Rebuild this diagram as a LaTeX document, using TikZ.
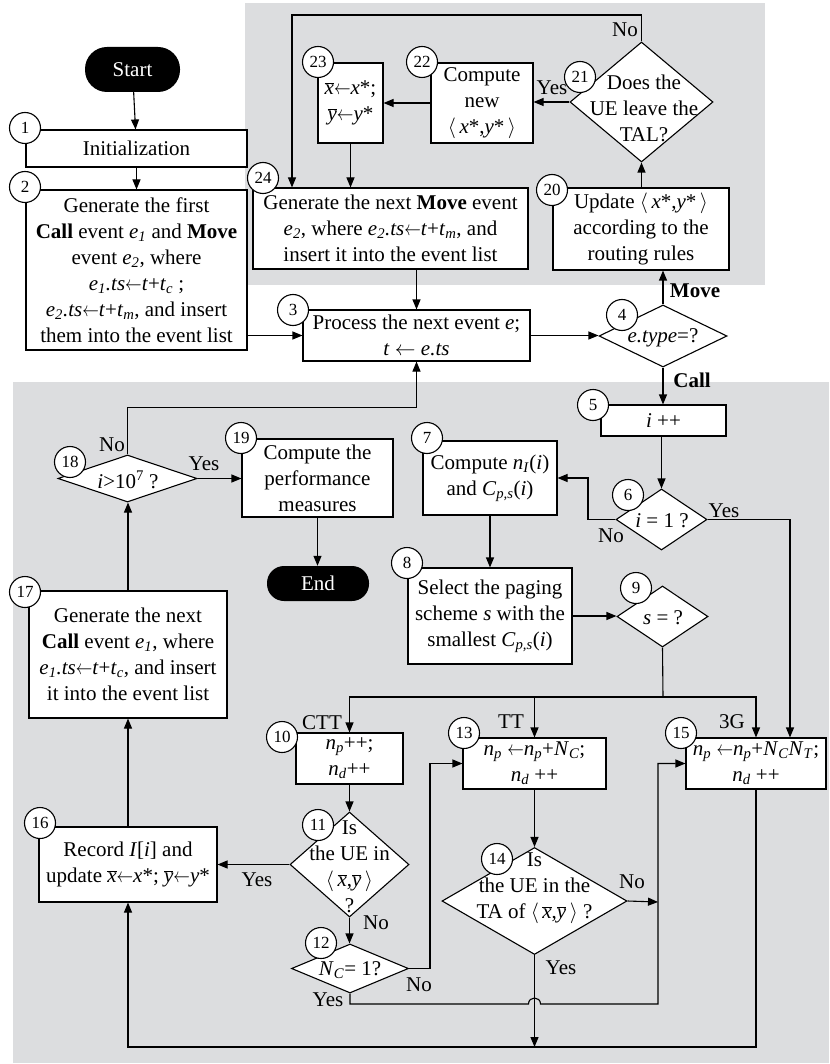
\documentclass[tikz,border=0pt]{standalone}
\usepackage{fontspec}
\usepackage{graphicx}
\setmainfont{Liberation Serif}
\usetikzlibrary{shapes.geometric,arrows.meta,calc}
\definecolor{bgray}{RGB}{220,221,223}
\newcommand{\fs}{\fontsize{21}{26}\selectfont}
\newcommand{\vi}[1]{\textit{#1}}
\newcommand{\es}[2]{\textit{#1}\textsubscript{\textit{#2}}}
\newcommand{\lar}{\scalebox{0.8}[1]{$\leftarrow$}}
\newcommand{\xb}{\ensuremath{\overline{\mbox{\textit{x}}}}}
\newcommand{\yb}{\ensuremath{\overline{\mbox{\textit{y}}}}}
\newcommand{\ang}[1]{\ensuremath{\langle}\,#1\,\ensuremath{\rangle}}
\tikzset{
  conn/.style={line width=1.1pt},
  arr/.style={line width=1.1pt,-{Triangle[length=10pt,width=8pt]}},
  box/.style={draw, fill=white, line width=1.1pt, inner sep=0pt, align=center, font=\fs},
  dia/.style={diamond, draw, fill=white, line width=1.1pt, inner sep=0pt},
  txt/.style={inner sep=0pt, align=center, font=\fs},
  num/.style={circle, draw, fill=white, line width=1.1pt, minimum size=31pt, inner sep=0pt, font=\fontsize{17}{17}\selectfont},
  pill/.style={fill=black, text=white, inner sep=0pt, font=\fs},
  lab/.style={inner sep=0pt, font=\fs},
  blab/.style={inner sep=0pt, font=\fs\bfseries}
}
\begin{document}
\begin{tikzpicture}[x=1pt,y=-1pt]
\useasboundingbox (0,0) rectangle (829,1064);
\fill[bgray] (245,3) rectangle (765,285);
\fill[bgray] (13,382) rectangle (829,1063);

% ---------- nodes ----------
\node[pill, minimum width=95pt, minimum height=45pt, rounded corners=22pt] (start) at (132.5,69.5) {Start};
\node[box, minimum width=221pt, minimum height=37pt] (b1) at (136.5,148.5) {Initialization};
\node[box, minimum width=221pt, minimum height=160pt] (b2) at (136.5,270) {Generate the first\\ \textbf{Call} event \es{e}{1} and \textbf{Move}\\ event \es{e}{2}, where\\ \es{e}{1}\vi{.ts}\lar\vi{t}+\es{t}{c} ;\\ \es{e}{2}\vi{.ts}\lar\vi{t}+\es{t}{m}, and insert\\ them into the event list};
\node[box, minimum width=227pt, minimum height=51pt] (b3) at (416.5,335.5) {Process the next event \vi{e};\\ \vi{t} $\leftarrow$ \vi{e.ts}};
\node[dia, minimum width=128pt, minimum height=62pt] (d4) at (663,336) {};
\node[txt] (t4) at (663,338) {\vi{e.type}=?};
\node[box, minimum width=125pt, minimum height=31pt] (b5) at (663.5,420.5) {\vi{i} ++};
\node[dia, minimum width=91pt, minimum height=61pt] (d6) at (661.5,519.5) {};
\node[txt] (t6) at (662,521) {\vi{i} = 1 ?};
\node[box, minimum width=134pt, minimum height=74pt] (b7) at (490,478) {Compute \es{n}{I}(\vi{i})\\ and \es{C}{p,s}(\vi{i})};
\node[box, minimum width=164pt, minimum height=96pt] (b8) at (490,616) {Select the paging\\ scheme \vi{s} with the\\ smallest \es{C}{p,s}(\vi{i})};
\node[dia, minimum width=91pt, minimum height=61pt] (d9) at (662.5,616.5) {};
\node[txt] (t9) at (663,618) {\vi{s} = ?};
\node[box, minimum width=107pt, minimum height=51pt] (b10) at (349.5,758.5) {\es{n}{p}++;\\ \es{n}{d}++};
\node[dia, minimum width=119pt, minimum height=105pt] (d11) at (349.5,864.5) {};
\node[txt] (t11) at (349.5,866.5) {Is\\ the UE in\\ \ang{\xb,\yb}\\ ?};
\node[dia, minimum width=117pt, minimum height=49pt] (d12) at (350,968.5) {};
\node[txt] (t12) at (350,970) {\es{N}{C}= 1?};
\node[box, minimum width=143pt, minimum height=51pt] (b13) at (534.5,763.5) {\es{n}{p} \lar\es{n}{p}+\es{N}{C};\\ \es{n}{d} ++};
\node[dia, minimum width=185pt, minimum height=107pt] (d14) at (534.5,901) {};
\node[txt] (t14) at (534.5,888) {Is\\ the UE in the\\ TA of \ang{\xb,\yb} ?};
\node[box, minimum width=140pt, minimum height=51pt] (b15) at (756,763.5) {\es{n}{p} \lar\es{n}{p}+\es{N}{C}\es{N}{T};\\ \es{n}{d} ++};
\node[box, minimum width=178pt, minimum height=75pt] (b16) at (128,864.5) {Record \vi{I}[\vi{i}] and\\ update \xb\lar\vi{x}*; \yb\lar\vi{y}*};
\node[box, minimum width=198pt, minimum height=127pt] (b17) at (128,654.5) {Generate the next\\ \textbf{Call} event \es{e}{1}, where\\ \es{e}{1}\vi{.ts}\lar\vi{t}+\es{t}{c}, and insert\\ it into the event list};
\node[dia, minimum width=139pt, minimum height=47pt] (d18) at (127.5,478.5) {};
\node[txt] (t18) at (128,480) {\vi{i}>10\textsuperscript{7} ?};
\node[box, minimum width=151pt, minimum height=78pt] (b19) at (317.5,478) {Compute the\\ performance\\ measures};
\node[pill, minimum width=102pt, minimum height=35pt, rounded corners=17pt] (end) at (318,583.5) {End};
\node[box, minimum width=176pt, minimum height=82pt] (b20) at (641,229) {Update \ang{\vi{x}*,\vi{y}*}\\ according to the\\ routing rules};
\node[dia, minimum width=143pt, minimum height=120pt] (d21) at (641.5,102) {};
\node[txt] (t21) at (644,108) {Does the\\ UE leave the\\ TAL?};
\node[box, minimum width=102pt, minimum height=80pt] (b22) at (482,103) {Compute\\ new\\ \ang{\vi{x}*,\vi{y}*}};
\node[box, minimum width=65pt, minimum height=80pt] (b23) at (350.5,103) {\xb\lar\vi{x}*;\\ \yb\lar\vi{y}*};
\node[box, minimum width=275pt, minimum height=81pt] (b24) at (390.5,228.5) {Generate the next \textbf{Move} event\\ \es{e}{2}, where \es{e}{2}\vi{.ts}\lar\vi{t}+\es{t}{m}, and\\ insert it into the event list};

% ---------- connectors ----------
\coordinate (k21) at (292,15);
\coordinate (k6) at (588,478);
\coordinate (k6y) at (790,519);
\coordinate (h9) at (663,697);
\coordinate (k12) at (430,763.5);
\coordinate (k14) at (658,902);
\coordinate (k15) at (658,763.5);
\coordinate (y12) at (350,1004);
\coordinate (j1) at (534.5,1047);

\draw[arr] (start) -- (b1);
\draw[arr] (b1) -- (b2);
\draw[arr] (b2.east |- b3.west) -- (b3.west);
\draw[arr] (b3.north |- b24.south) -- (b3.north);
\draw[arr] (b3.east) -- (b3.east -| d4.west);
\draw[arr] (d4.north) -- (d4.north |- b20.south);
\draw[arr] (b20.north -| d21.south) -- (d21.south);
\draw[arr] (d21.west) -- (d21.west -| b22.east);
\draw[arr] (b22.west) -- (b22.west -| b23.east);
\draw[arr] (b23.south) -- (b23.south |- b24.north);
\draw[arr] (d21.north) |- (k21) -- (k21 |- b24.north);
\draw[arr] (d4.south) -- (d4.south |- b5.north);
\draw[arr] (b5.south -| d6.north) -- (d6.north);
\draw[arr] (d6.west) -| (k6) -- (b7.east);
\draw[arr] (d6.east) -| (k6y |- b15.north);
\draw[arr] (b7) -- (b8);
\draw[arr] (b8.east) -- (b8.east -| d9.west);
\draw[conn] (d9.south) -- (h9);
\draw[arr] (h9) -| (b10.north);
\draw[arr] (h9) -| (b15.north);
\draw[arr] (b13.north |- h9) -- (b13.north);
\draw[arr] (b10.south) -- (b10.south |- d11.north);
\draw[arr] (d11.west) -- (d11.west -| b16.east);
\draw[arr] (d11.south) -- (d11.south |- d12.north);
\draw[arr] (d12.east) -| (k12) -- (b13.west);
\draw[arr] (b13.south) -- (b13.south |- d14.north);
\draw[arr] (d14.east) -- (k14);
\draw[arr] (d12.south) -- (y12) -- ($(j1|-y12)+(-6,0)$) .. controls ($(j1|-y12)+(-6,-8)$) and ($(j1|-y12)+(6,-8)$) .. ($(j1|-y12)+(6,0)$) -| (k15) -- (b15.west);
\draw[arr] (d14.south) -- (j1);
\draw[arr] (b15.south) |- (j1) -| (b16.south);
\draw[arr] (b16.north) -- (b17.south);
\draw[arr] (b17.north) -- (b17.north |- d18.south);
\draw[arr] (d18.east) -- (d18.east -| b19.west);
\draw[arr] (d18.north) -- ++(0,-47) -| (b3.south);
\draw[arr] (b19.south) -- (b19.south |- end.north);

% ---------- number circles ----------
\node[num] (c1) at (25,128) {1};
\node[num] (c2) at (25,187) {2};
\node[num] (c3) at (293,310) {3};
\node[num] (c4) at (622,315) {4};
\node[num] (c5) at (593,405) {5};
\node[num] (c6) at (628,495) {6};
\node[num] (c7) at (427,438) {7};
\node[num] (c8) at (407,563) {8};
\node[num] (c9) at (636,588) {9};
\node[num] (c10) at (282,737) {10};
\node[num] (c11) at (318,825) {11};
\node[num] (c12) at (321,943) {12};
\node[num] (c13) at (464,733) {13};
\node[num] (c14) at (497,859) {14};
\node[num] (c15) at (681,733) {15};
\node[num] (c16) at (40,823) {16};
\node[num] (c17) at (25,592) {17};
\node[num] (c18) at (70,462) {18};
\node[num] (c19) at (241,438) {19};
\node[num] (c20) at (552,190) {20};
\node[num] (c21) at (580,77) {21};
\node[num] (c22) at (422,62) {22};
\node[num] (c23) at (318,62) {23};
\node[num] (c24) at (263,178) {24};

% ---------- branch labels ----------
\node[lab] (lNo21) at (625,30) {No};
\node[lab] (lYes21) at (552,88) {Yes};
\node[blab] (lMove) at (695,291) {Move};
\node[blab] (lCall) at (692,380) {Call};
\node[lab] (lNo18) at (112,445) {No};
\node[lab] (lYes18) at (204,464) {Yes};
\node[lab] (lNo6) at (611,536) {No};
\node[lab] (lYes6) at (724,511) {Yes};
\node[lab] (lCTT) at (322,723) {CTT};
\node[lab] (lTT) at (511,722) {TT};
\node[lab] (l3G) at (732,722) {3G};
\node[lab] (lYes11) at (257,880) {Yes};
\node[lab] (lNo11) at (376,923) {No};
\node[lab] (lNo12) at (419,985) {No};
\node[lab] (lYes12) at (328,1000) {Yes};
\node[lab] (lNo14) at (632,882) {No};
\node[lab] (lYes14) at (561,968) {Yes};
\end{tikzpicture}
\end{document}
